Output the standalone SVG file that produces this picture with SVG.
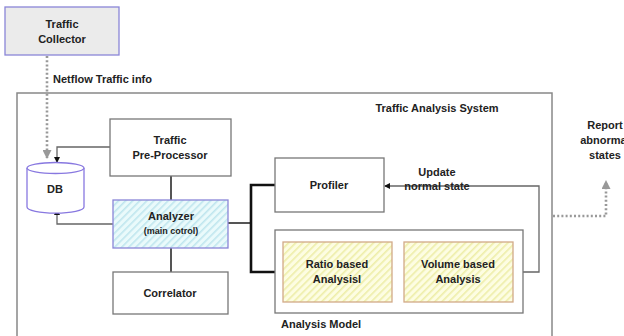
<svg xmlns="http://www.w3.org/2000/svg" width="624" height="336" viewBox="0 0 624 336">
  <defs>
    <pattern id="hatchCyan" patternUnits="userSpaceOnUse" width="5" height="5" patternTransform="rotate(45)">
      <rect width="5" height="5" fill="#eafafb"/>
      <rect width="1.6" height="5" fill="#bfe6ee"/>
    </pattern>
    <pattern id="hatchYellow" patternUnits="userSpaceOnUse" width="5" height="5" patternTransform="rotate(45)">
      <rect width="5" height="5" fill="#fdfde2"/>
      <rect width="1.6" height="5" fill="#eeeea8"/>
    </pattern>
    <marker id="arrBlack" markerWidth="6" markerHeight="6" refX="5" refY="3" orient="auto" markerUnits="userSpaceOnUse">
      <path d="M0,0 L6,3 L0,6 z" fill="#111"/>
    </marker>
    <marker id="arrGray" markerWidth="9" markerHeight="9" refX="8" refY="4.5" orient="auto" markerUnits="userSpaceOnUse">
      <path d="M0,0 L9,4.5 L0,9 z" fill="#999"/>
    </marker>
  </defs>
  <style>
    text { font-family: "Liberation Sans", Arial, sans-serif; font-weight: bold; font-size: 11px; fill: #222; }
    .c { text-anchor: middle; }
    .small { font-size: 9px; }
    .box { fill: #fff; stroke: #777; stroke-width: 1.3; }
    .thin { fill: none; stroke: #666; stroke-width: 1.3; }
    .mid { fill: none; stroke: #555; stroke-width: 2; }
    .thick { fill: none; stroke: #111; stroke-width: 2.6; }
    .dot { fill: none; stroke: #999; stroke-width: 2.6; stroke-dasharray: 2 2.2; }
  </style>

  <!-- system boundary -->
  <g id="traffic-analysis-system">
    <rect x="17" y="93" width="535" height="260" fill="#fff" stroke="#888" stroke-width="1.5"/>
    <text x="437" y="112" class="c">Traffic Analysis System</text>
  </g>

  <!-- connectors -->
  <g id="connectors">
    <path class="dot" d="M47,56 V158" marker-end="url(#arrGray)"/>
    <path class="thin" d="M110,147 H57 V162" marker-end="url(#arrBlack)"/>
    <path class="thin" d="M113,224 H57 V210" marker-end="url(#arrBlack)"/>
    <path class="mid" d="M171,176 V200"/>
    <path class="mid" d="M171,248 V272"/>
    <path class="mid" d="M228,223 H251"/>
    <path class="thick" d="M275,185 H251 V272 H275"/>
    <path class="thin" d="M523,272 H539 V186 H385" marker-end="url(#arrBlack)"/>
    <path class="dot" d="M553,216 H606 V181" marker-end="url(#arrGray)"/>
  </g>

  <g id="traffic-collector">
    <rect x="5" y="7" width="114" height="48" fill="#ebebeb" stroke="#8a86d8" stroke-width="1.3"/>
    <text x="62" y="28" class="c">Traffic</text>
    <text x="62" y="43" class="c">Collector</text>
  </g>

  <g id="netflow-label">
    <text x="53" y="83">Netflow Traffic info</text>
  </g>

  <g id="db">
    <path d="M27,168 V207 A28,6 0 0 0 84,207 V168" fill="#fff" stroke="#8878e0" stroke-width="1.3"/>
    <ellipse cx="55.5" cy="168" rx="28.5" ry="5.5" fill="#fff" stroke="#8878e0" stroke-width="1.3"/>
    <text x="55" y="193" class="c">DB</text>
  </g>

  <g id="pre-processor">
    <rect x="110" y="119" width="121" height="57" class="box"/>
    <text x="170" y="144" class="c">Traffic</text>
    <text x="170" y="159" class="c">Pre-Processor</text>
  </g>

  <g id="analyzer">
    <rect x="113" y="200" width="115" height="48" fill="url(#hatchCyan)" stroke="#8a86d8" stroke-width="1.3"/>
    <text x="171" y="220" class="c">Analyzer</text>
    <text x="171" y="234" class="c small">(main cotrol)</text>
  </g>

  <g id="correlator">
    <rect x="113" y="272" width="115" height="42" class="box"/>
    <text x="170" y="297" class="c">Correlator</text>
  </g>

  <g id="profiler">
    <rect x="275" y="158" width="109" height="54" class="box"/>
    <text x="329" y="189" class="c">Profiler</text>
  </g>

  <g id="update-label">
    <text x="437" y="176" class="c">Update</text>
    <text x="437" y="190" class="c">normal state</text>
  </g>

  <g id="analysis-model">
    <rect x="275" y="230" width="248" height="83" class="box"/>
    <text x="281" y="328">Analysis Model</text>
  </g>

  <g id="ratio-analysis">
    <rect x="283" y="242" width="109" height="60" fill="url(#hatchYellow)" stroke="#d2aa88" stroke-width="1.3"/>
    <text x="337" y="268" class="c">Ratio based</text>
    <text x="337" y="283" class="c">Analysisl</text>
  </g>

  <g id="volume-analysis">
    <rect x="404" y="242" width="109" height="60" fill="url(#hatchYellow)" stroke="#d2aa88" stroke-width="1.3"/>
    <text x="458" y="268" class="c">Volume based</text>
    <text x="458" y="283" class="c">Analysis</text>
  </g>

  <g id="report-label">
    <text x="605" y="129" class="c">Report</text>
    <text x="605" y="144" class="c">abnormal</text>
    <text x="605" y="159" class="c">states</text>
  </g>
</svg>
